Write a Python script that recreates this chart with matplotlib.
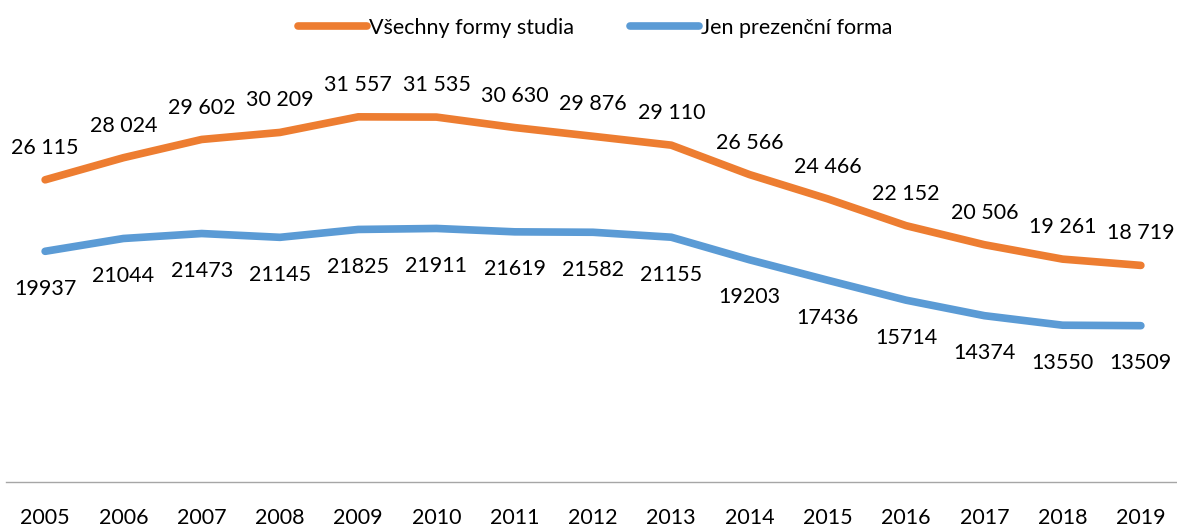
import matplotlib.pyplot as plt

plt.rcParams['font.family'] = ['Lato', 'DejaVu Sans']

years = ['2005', '2006', '2007', '2008', '2009', '2010', '2011', '2012',
         '2013', '2014', '2015', '2016', '2017', '2018', '2019']
vsechny = [26115, 28024, 29602, 30209, 31557, 31535, 30630, 29876,
           29110, 26566, 24466, 22152, 20506, 19261, 18719]
prezencni = [19937, 21044, 21473, 21145, 21825, 21911, 21619, 21582,
             21155, 19203, 17436, 15714, 14374, 13550, 13509]

orange = '#ED7D31'
blue = '#5B9BD5'

fig = plt.figure(figsize=(11.77, 5.29), dpi=100)
ax = fig.add_axes([6 / 1177, 1 - 482 / 529, 1174 / 1177, 405 / 529])

x = list(range(len(years)))
ax.plot(x, vsechny, color=orange, lw=5.5, solid_capstyle='round',
        solid_joinstyle='round', label='Všechny formy studia')
ax.plot(x, prezencni, color=blue, lw=5.5, solid_capstyle='round',
        solid_joinstyle='round', label='Jen prezenční forma')

# data labels
for i, v in enumerate(vsechny):
    ax.annotate(f'{v:,}'.replace(',', ' '), (i, v), xytext=(0, 23),
                textcoords='offset points', ha='center', va='center', fontsize=15.5)
for i, v in enumerate(prezencni):
    ax.annotate(str(v), (i, v), xytext=(0, -27),
                textcoords='offset points', ha='center', va='center', fontsize=15.5)

ax.set_xlim(-0.5, len(years) - 0.5)
ax.set_ylim(0, 35000)
ax.set_xticks(x)
ax.set_xticklabels(years, fontsize=15.5)
ax.tick_params(axis='x', length=0, pad=19)
ax.set_yticks([])
for s in ['top', 'left', 'right']:
    ax.spines[s].set_visible(False)
ax.spines['bottom'].set_color('#A6A6A6')
ax.spines['bottom'].set_linewidth(1)

fig.legend(loc='center', bbox_to_anchor=(595 / 1177, 1 - 28 / 529), ncol=2,
           frameon=False, fontsize=15.5, handlelength=3.2, handletextpad=0.1,
           columnspacing=2.6)

fig.savefig('out.png', dpi=100)
